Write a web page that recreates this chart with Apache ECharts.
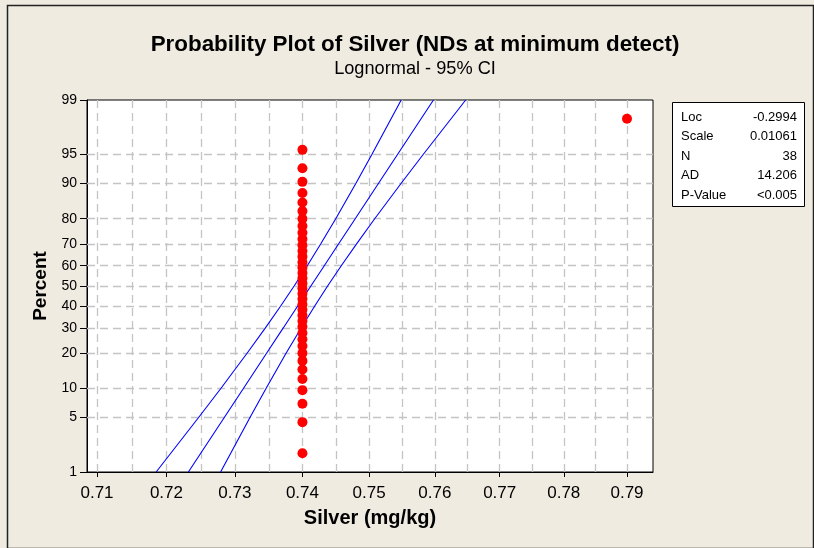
<!DOCTYPE html>
<html><head><meta charset="utf-8">
<script src="https://cdn.jsdelivr.net/npm/echarts@6/dist/echarts.min.js"></script>
<style>html,body{margin:0;padding:0;background:#efebe1}#c{width:814px;height:548px}</style>
</head><body><div id="c"></div>
<script>
// ---- data ----
const silver = [0.74,0.74,0.74,0.74,0.74,0.74,0.74,0.74,0.74,0.74,0.74,0.74,0.74,0.74,0.74,0.74,0.74,0.74,0.74,0.74,
  0.74,0.74,0.74,0.74,0.74,0.74,0.74,0.74,0.74,0.74,0.74,0.74,0.74,0.74,0.74,0.74,0.74,0.79];
const percent = [1.82,4.43,7.03,9.64,12.24,14.84,17.45,20.05,22.66,25.26,27.86,30.47,33.07,35.68,38.28,40.89,43.49,46.09,48.70,51.30,
  53.91,56.51,59.11,61.72,64.32,66.93,69.53,72.14,74.74,77.34,79.95,82.55,85.16,87.76,90.36,92.97,95.57,98.18];
// fitted line & 95% CI bands (percent level -> silver value)
const linePct   = [1, 5, 10, 20, 30, 40, 50, 60, 70, 80, 90, 95, 99];
const fitX      = [0.72319,0.72844,0.73125,0.73467,0.73715,0.73927,0.74126,0.74326,0.74540,0.74791,0.75141,0.75431,0.75979];
const lowerX    = [0.71851,0.72468,0.72793,0.73179,0.73450,0.73674,0.73876,0.74072,0.74272,0.74498,0.74800,0.75042,0.75487];
const upperX    = [0.72790,0.73222,0.73459,0.73756,0.73981,0.74181,0.74376,0.74581,0.74809,0.75085,0.75484,0.75822,0.76474];
// axes
const xTicks    = [0.71,0.72,0.73,0.74,0.75,0.76,0.77,0.78,0.79];
const xGrid     = [0.71,0.715,0.72,0.725,0.73,0.735,0.74,0.745,0.75,0.755,0.76,0.765,0.77,0.775,0.78,0.785,0.79];
const yTicks    = [1,5,10,20,30,40,50,60,70,80,90,95,99];
const xRange    = [0.70857, 0.79415];
const yRange    = [1, 99];
const statNames = ['Loc','Scale','N','AD','P-Value'];
const statVals  = ['-0.2994','0.01061','38','14.206','<0.005'];

// ---- probability scale (normal quantile) ----
function probit(p){
  const a=[-3.969683028665376e+01,2.209460984245205e+02,-2.759285104469687e+02,1.383577518672690e+02,-3.066479806614716e+01,2.506628277459239e+00];
  const b=[-5.447609879822406e+01,1.615858368580409e+02,-1.556989798598866e+02,6.680131188771972e+01,-1.328068155288572e+01];
  const c=[-7.784894002430293e-03,-3.223964580411365e-01,-2.400758277161838e+00,-2.549732539343734e+00,4.374664141464968e+00,2.938163982698783e+00];
  const d=[7.784695709041462e-03,3.224671290700398e-01,2.445134137142996e+00,3.754408661907416e+00];
  const pl=0.02425, ph=1-pl; let q,r;
  if(p<pl){q=Math.sqrt(-2*Math.log(p));return (((((c[0]*q+c[1])*q+c[2])*q+c[3])*q+c[4])*q+c[5])/((((d[0]*q+d[1])*q+d[2])*q+d[3])*q+1);}
  if(p>ph){q=Math.sqrt(-2*Math.log(1-p));return -(((((c[0]*q+c[1])*q+c[2])*q+c[3])*q+c[4])*q+c[5])/((((d[0]*q+d[1])*q+d[2])*q+d[3])*q+1);}
  q=p-0.5;r=q*q;return (((((a[0]*r+a[1])*r+a[2])*r+a[3])*r+a[4])*r+a[5])*q/(((((b[0]*r+b[1])*r+b[2])*r+b[3])*r+b[4])*r+1);
}
const py = p => probit(p/100);
const lx = v => Math.log(v);
const yTickZ = yTicks.map(py);
const yLabel = v => { let best=0; yTickZ.forEach((z,i)=>{ if(Math.abs(z-v)<Math.abs(yTickZ[best]-v)) best=i; }); return String(yTicks[best]); };

const FONT = '"Liberation Sans", Arial, sans-serif';
const chart = echarts.init(document.getElementById('c'), null, {renderer:'canvas'});

const lineSeries = (xs, name) => ({
  type:'line', name, data: xs.map((x,i)=>[lx(x), py(linePct[i])]), showSymbol:false, smooth:false,
  lineStyle:{color:'#0000ff', width:1.1}, z:3, silent:true, animation:false
});

const gridLineStyle = {color:'#c4c4c4', type:[8,5], width:1.3};
chart.setOption({
  backgroundColor:'#efebe1',
  animation:false,
  grid:{left:87, top:100, right:161, bottom:76, show:true, backgroundColor:'#ffffff', borderColor:'#000', borderWidth:1, outerBoundsMode:'none'},
  xAxis:{type:'value', min:lx(xRange[0]), max:lx(xRange[1]),
    axisLine:{show:true, onZero:false, lineStyle:{color:'#000', width:1}},
    axisTick:{show:true, customValues: xTicks.map(lx), length:5, inside:false, lineStyle:{color:'#000'}},
    axisLabel:{customValues: xTicks.map(lx), formatter: v => Math.exp(v).toFixed(2), fontSize:17, color:'#000', fontFamily:FONT, margin:13},
    splitLine:{show:false},
    name:'Silver (mg/kg)', nameLocation:'middle', nameGap:36,
    nameTextStyle:{fontSize:20, fontWeight:'bold', color:'#000', fontFamily:FONT}},
  yAxis:{type:'value', min:py(yRange[0]), max:py(yRange[1]),
    axisLine:{show:true, onZero:false, lineStyle:{color:'#000', width:1}},
    axisTick:{show:true, customValues: yTickZ, length:7, inside:false, lineStyle:{color:'#000'}},
    axisLabel:{customValues: yTickZ, formatter: yLabel, fontSize:14, color:'#000', fontFamily:FONT, margin:10},
    splitLine:{show:false},
    name:'Percent', nameLocation:'middle', nameGap:35, nameRotate:90,
    nameTextStyle:{fontSize:19, fontWeight:'bold', color:'#000', fontFamily:FONT}},
  graphic:[
    {type:'rect', left:5, top:3, shape:{width:806, height:543}, style:{fill:'none', stroke:'#222', lineWidth:1.5}, silent:true},
    {type:'text', x:415, y:45, style:{text:'Probability Plot of Silver (NDs at minimum detect)', font:'bold 22.4px '+FONT, fill:'#000', textAlign:'center', textVerticalAlign:'middle'}},
    {type:'text', x:415, y:69, style:{text:'Lognormal - 95% CI', font:'18.2px '+FONT, fill:'#000', textAlign:'center', textVerticalAlign:'middle'}},
    {type:'rect', shape:{x:672.5, y:102.5, width:132, height:104}, style:{fill:'#fff', stroke:'#000', lineWidth:1}},
    ...statNames.map((n,i)=>({type:'text', x:681, y:117+i*19.5, style:{text:n, font:'13px '+FONT, fill:'#000', textAlign:'left', textVerticalAlign:'middle'}})),
    ...statVals.map((v,i)=>({type:'text', x:797, y:117+i*19.5, style:{text:v, font:'13px '+FONT, fill:'#000', textAlign:'right', textVerticalAlign:'middle'}}))
  ],
  series:[
    {type:'line', name:'grid', data:[], silent:true, z:1,
      markLine:{silent:true, z:1, symbol:'none', precision:12, label:{show:false}, lineStyle:gridLineStyle, animation:false,
        data:[...xGrid.map(v=>({xAxis:lx(v)})), ...yTicks.slice(1,-1).map(p=>({yAxis:py(p)}))]}},
    lineSeries(lowerX,'lower'), lineSeries(fitX,'fit'), lineSeries(upperX,'upper'),
    {type:'scatter', name:'Silver', data: silver.map((s,i)=>[lx(s), py(percent[i])]), symbolSize:10,
      itemStyle:{color:'#ff0000', opacity:1}, z:6, silent:true}
  ]
});
</script></body></html>
